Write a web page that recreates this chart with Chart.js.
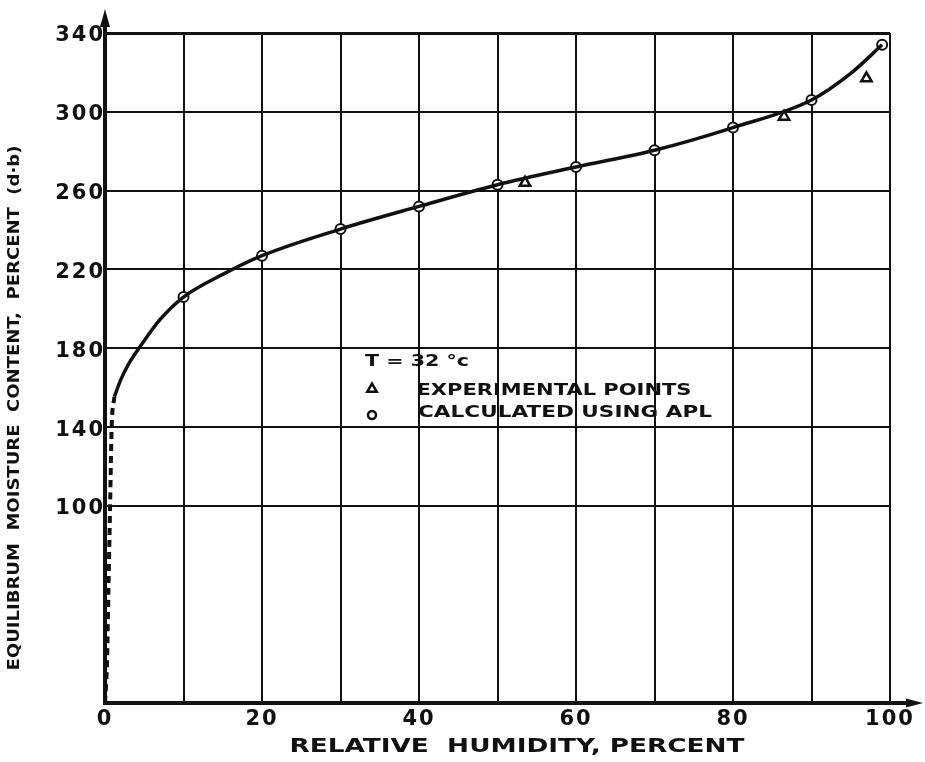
<!DOCTYPE html>
<html>
<head>
<meta charset="utf-8">
<script src="https://cdn.jsdelivr.net/npm/chart.js@4.4.1/dist/chart.umd.min.js"></script>
<style>
  html, body { margin: 0; padding: 0; background: #fff; }
  #wrap { width: 925px; height: 762px; }
</style>
</head>
<body>
<div id="wrap"><canvas id="emcChart" width="925" height="762"></canvas></div>
<script>
// fitted isotherm (RH %, EMC % d.b.)
const curveRH = [1.2, 2, 3, 4.5, 7, 10, 15, 20, 30, 40, 50, 60, 70, 80, 90, 95, 99];
const curveEMC = [155.5, 164, 172, 181, 194.5, 206, 217.5, 227, 240.5, 252, 263, 272, 280.5, 292, 306, 319.5, 334];

// dashed extrapolation down to the origin
const tailRH = [0, 0.25, 0.45, 0.65, 0.85, 1.2];
const tailEMC = [0, 20, 60, 100, 140, 155.5];

// calculated using APL (circles)
const calcRH = [10, 20, 30, 40, 50, 60, 70, 80, 90, 99];
const calcEMC = [206, 227, 240.5, 252, 263, 272, 280.5, 292, 306, 334];

// experimental points (triangles)
const expRH = [53.5, 86.5, 97];
const expEMC = [264, 297.5, 317];

const xTicks = [0, 10, 20, 30, 40, 50, 60, 70, 80, 90, 100];
const yTicks = [100, 140, 180, 220, 260, 300, 340];

const INK = '#111';
const FONT = '"DejaVu Sans", sans-serif';

const pts = (xs, ys) => xs.map((x, i) => ({ x: x, y: ys[i] }));

// draw bold text squeezed/stretched to a given width, centred on (cx, cy)
function fitText(ctx, text, cx, cy, width, size, angle) {
  ctx.save();
  ctx.translate(cx, cy);
  if (angle) ctx.rotate(angle);
  ctx.font = 'bold ' + size + 'px ' + FONT;
  ctx.letterSpacing = '0px';
  const w = ctx.measureText(text).width;
  ctx.scale(width / w, 1);
  ctx.textAlign = 'center';
  ctx.textBaseline = 'middle';
  ctx.fillStyle = INK;
  ctx.fillText(text, 0, 0);
  ctx.restore();
}

const decorPlugin = {
  id: 'decor',
  beforeDraw(chart) {
    chart.ctx.letterSpacing = '2px';
  },
  beforeDatasetsDraw(chart) {
    chart.ctx.letterSpacing = '0px';
  },
  afterDraw(chart) {
    const ctx = chart.ctx;
    const a = chart.chartArea;
    ctx.save();
    ctx.fillStyle = INK;
    ctx.strokeStyle = INK;
    ctx.lineWidth = 4;

    // axis arrows
    ctx.beginPath();
    ctx.moveTo(a.left, a.top);
    ctx.lineTo(a.left, a.top - 16);
    ctx.moveTo(a.right, a.bottom);
    ctx.lineTo(a.right + 20, a.bottom);
    ctx.stroke();
    ctx.beginPath();
    ctx.moveTo(a.left, a.top - 24);
    ctx.lineTo(a.left - 5, a.top - 6);
    ctx.lineTo(a.left + 5, a.top - 6);
    ctx.closePath();
    ctx.fill();
    ctx.beginPath();
    ctx.moveTo(a.right + 33, a.bottom);
    ctx.lineTo(a.right + 16, a.bottom - 4.5);
    ctx.lineTo(a.right + 16, a.bottom + 4.5);
    ctx.closePath();
    ctx.fill();

    // axis titles
    fitText(ctx, 'RELATIVE  HUMIDITY, PERCENT', 517, 747, 455, 19);
    fitText(ctx, 'EQUILIBRUM  MOISTURE  CONTENT,  PERCENT  (d·b)', 15, 408, 525, 16, -Math.PI / 2);

    // legend block
    fitText(ctx, 'T = 32 °c', 365 + 52, 362, 104, 15);
    fitText(ctx, 'EXPERIMENTAL POINTS', 417 + 137, 391, 275, 15);
    fitText(ctx, 'CALCULATED USING APL', 418 + 147, 413, 294, 15);
    ctx.restore();

    ctx.save();
    ctx.fillStyle = '#fff';
    ctx.strokeStyle = INK;
    ctx.lineWidth = 2.5;
    Chart.helpers.drawPoint(ctx, { pointStyle: 'triangle', radius: 5.5, borderWidth: 2.5, rotation: 0 }, 372, 389);
    ctx.beginPath();
    ctx.arc(372, 415, 4, 0, Math.PI * 2);
    ctx.fill();
    ctx.stroke();
    ctx.restore();
  }
};

new Chart(document.getElementById('emcChart'), {
  type: 'scatter',
  data: {
    datasets: [
      {
        label: 'fit',
        data: pts(curveRH, curveEMC),
        showLine: true,
        borderColor: INK,
        borderWidth: 3.5,
        pointRadius: 0,
        cubicInterpolationMode: 'monotone',
      },
      {
        label: 'extrapolated',
        data: pts(tailRH, tailEMC),
        showLine: true,
        borderColor: INK,
        borderWidth: 4,
        borderDash: [7, 5],
        pointRadius: 0,
        cubicInterpolationMode: 'monotone',
      },
      {
        label: 'CALCULATED USING APL',
        data: pts(calcRH, calcEMC),
        pointStyle: 'circle',
        pointRadius: 5,
        pointBorderWidth: 2,
        pointBackgroundColor: '#fff',
        pointBorderColor: INK,
      },
      {
        label: 'EXPERIMENTAL POINTS',
        data: pts(expRH, expEMC),
        pointStyle: 'triangle',
        pointRadius: 6,
        pointBorderWidth: 2.5,
        pointBackgroundColor: '#fff',
        pointBorderColor: INK,
      },
    ],
  },
  options: {
    responsive: false,
    animation: false,
    layout: { padding: { top: 33, right: 35, left: 0, bottom: 0 } },
    plugins: { legend: { display: false }, tooltip: { enabled: false } },
    scales: {
      x: {
        type: 'linear',
        min: 0,
        max: 100,
        afterBuildTicks: (s) => { s.ticks = xTicks.map((v) => ({ value: v })); },
        afterFit: (s) => { s.height = 59; },
        grid: { color: INK, lineWidth: 2, drawTicks: false },
        border: { color: INK, width: 4 },
        ticks: {
          autoSkip: false,
          maxRotation: 0,
          padding: 4,
          color: INK,
          font: { family: FONT, size: 21, weight: 'bold' },
          callback: (v) => (v % 20 === 0 ? String(v) : ''),
        },
      },
      y: {
        type: 'linear',
        min: 0,
        max: 340,
        afterBuildTicks: (s) => { s.ticks = yTicks.map((v) => ({ value: v })); },
        afterFit: (s) => { s.width = 105; },
        grid: {
          color: INK,
          lineWidth: (c) => (c.tick && c.tick.value === 340 ? 3 : 2),
          drawTicks: false,
        },
        border: { color: INK, width: 4 },
        ticks: {
          padding: 0,
          labelOffset: 3,
          color: INK,
          font: { family: FONT, size: 21, weight: 'bold' },
        },
      },
    },
  },
  plugins: [decorPlugin],
});
</script>
</body>
</html>
